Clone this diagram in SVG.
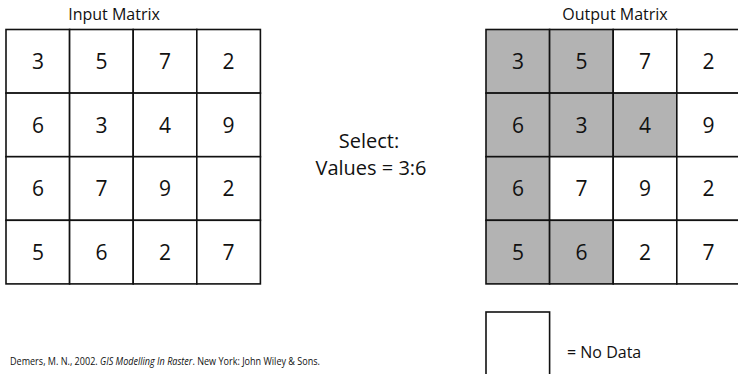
<svg xmlns="http://www.w3.org/2000/svg" width="738" height="374" viewBox="0 0 738 374">
<style>
.cell{fill:#ffffff;stroke:#111;stroke-width:1.6}
.sel{fill:#b3b3b3}
.num{font-family:"Open Sans","Noto Sans",sans-serif;font-size:21px;fill:#111;text-anchor:middle}
.title{font-family:"Open Sans","Noto Sans",sans-serif;font-size:16px;fill:#111;text-anchor:middle}
.mid{font-family:"Open Sans","Noto Sans",sans-serif;font-size:20px;fill:#111;text-anchor:middle}
.cite{font-family:"Open Sans","Noto Sans",sans-serif;font-size:10px;fill:#111}
</style>
<rect width="738" height="374" fill="#ffffff"/>
<g id="input-matrix">
<text class="title" x="114" y="20">Input Matrix</text>
<rect class="cell" x="6" y="29.5" width="63.6" height="63.6"/><rect class="cell" x="69.6" y="29.5" width="63.6" height="63.6"/><rect class="cell" x="133.2" y="29.5" width="63.6" height="63.6"/><rect class="cell" x="196.8" y="29.5" width="63.6" height="63.6"/>
<rect class="cell" x="6" y="93.1" width="63.6" height="63.6"/><rect class="cell" x="69.6" y="93.1" width="63.6" height="63.6"/><rect class="cell" x="133.2" y="93.1" width="63.6" height="63.6"/><rect class="cell" x="196.8" y="93.1" width="63.6" height="63.6"/>
<rect class="cell" x="6" y="156.7" width="63.6" height="63.6"/><rect class="cell" x="69.6" y="156.7" width="63.6" height="63.6"/><rect class="cell" x="133.2" y="156.7" width="63.6" height="63.6"/><rect class="cell" x="196.8" y="156.7" width="63.6" height="63.6"/>
<rect class="cell" x="6" y="220.3" width="63.6" height="63.6"/><rect class="cell" x="69.6" y="220.3" width="63.6" height="63.6"/><rect class="cell" x="133.2" y="220.3" width="63.6" height="63.6"/><rect class="cell" x="196.8" y="220.3" width="63.6" height="63.6"/>
<text class="num" x="38" y="69">3</text><text class="num" x="101.5" y="69">5</text><text class="num" x="165" y="69">7</text><text class="num" x="228.5" y="69">2</text>
<text class="num" x="38" y="133">6</text><text class="num" x="101.5" y="133">3</text><text class="num" x="165" y="133">4</text><text class="num" x="228.5" y="133">9</text>
<text class="num" x="38" y="196">6</text><text class="num" x="101.5" y="196">7</text><text class="num" x="165" y="196">9</text><text class="num" x="228.5" y="196">2</text>
<text class="num" x="38" y="260">5</text><text class="num" x="101.5" y="260">6</text><text class="num" x="165" y="260">2</text><text class="num" x="228.5" y="260">7</text>
</g>
<g id="operation">
<text class="mid" x="369" y="148">Select:</text>
<text class="mid" x="371" y="175">Values = 3:6</text>
</g>
<g id="output-matrix">
<text class="title" x="615" y="20">Output Matrix</text>
<rect class="cell sel" x="486" y="29.5" width="63.6" height="63.6"/><rect class="cell sel" x="549.6" y="29.5" width="63.6" height="63.6"/><rect class="cell" x="613.2" y="29.5" width="63.6" height="63.6"/><rect class="cell" x="676.8" y="29.5" width="63.6" height="63.6"/>
<rect class="cell sel" x="486" y="93.1" width="63.6" height="63.6"/><rect class="cell sel" x="549.6" y="93.1" width="63.6" height="63.6"/><rect class="cell sel" x="613.2" y="93.1" width="63.6" height="63.6"/><rect class="cell" x="676.8" y="93.1" width="63.6" height="63.6"/>
<rect class="cell sel" x="486" y="156.7" width="63.6" height="63.6"/><rect class="cell" x="549.6" y="156.7" width="63.6" height="63.6"/><rect class="cell" x="613.2" y="156.7" width="63.6" height="63.6"/><rect class="cell" x="676.8" y="156.7" width="63.6" height="63.6"/>
<rect class="cell sel" x="486" y="220.3" width="63.6" height="63.6"/><rect class="cell sel" x="549.6" y="220.3" width="63.6" height="63.6"/><rect class="cell" x="613.2" y="220.3" width="63.6" height="63.6"/><rect class="cell" x="676.8" y="220.3" width="63.6" height="63.6"/>
<text class="num" x="518" y="69">3</text><text class="num" x="581.5" y="69">5</text><text class="num" x="645" y="69">7</text><text class="num" x="708.5" y="69">2</text>
<text class="num" x="518" y="133">6</text><text class="num" x="581.5" y="133">3</text><text class="num" x="645" y="133">4</text><text class="num" x="708.5" y="133">9</text>
<text class="num" x="518" y="196">6</text><text class="num" x="581.5" y="196">7</text><text class="num" x="645" y="196">9</text><text class="num" x="708.5" y="196">2</text>
<text class="num" x="518" y="260">5</text><text class="num" x="581.5" y="260">6</text><text class="num" x="645" y="260">2</text><text class="num" x="708.5" y="260">7</text>
</g>
<g id="legend">
<rect class="cell" x="486" y="312" width="63.6" height="70"/>
<text class="mid" x="567" y="358" style="text-anchor:start;font-size:16px">= No Data</text>
</g>
<g id="citation">
<text class="cite" x="10" y="365" textLength="310" lengthAdjust="spacingAndGlyphs">Demers, M. N., 2002.  <tspan font-style="italic">GIS Modelling In Raster</tspan>.  New York:  John Wiley &amp; Sons.</text>
</g>
</svg>
